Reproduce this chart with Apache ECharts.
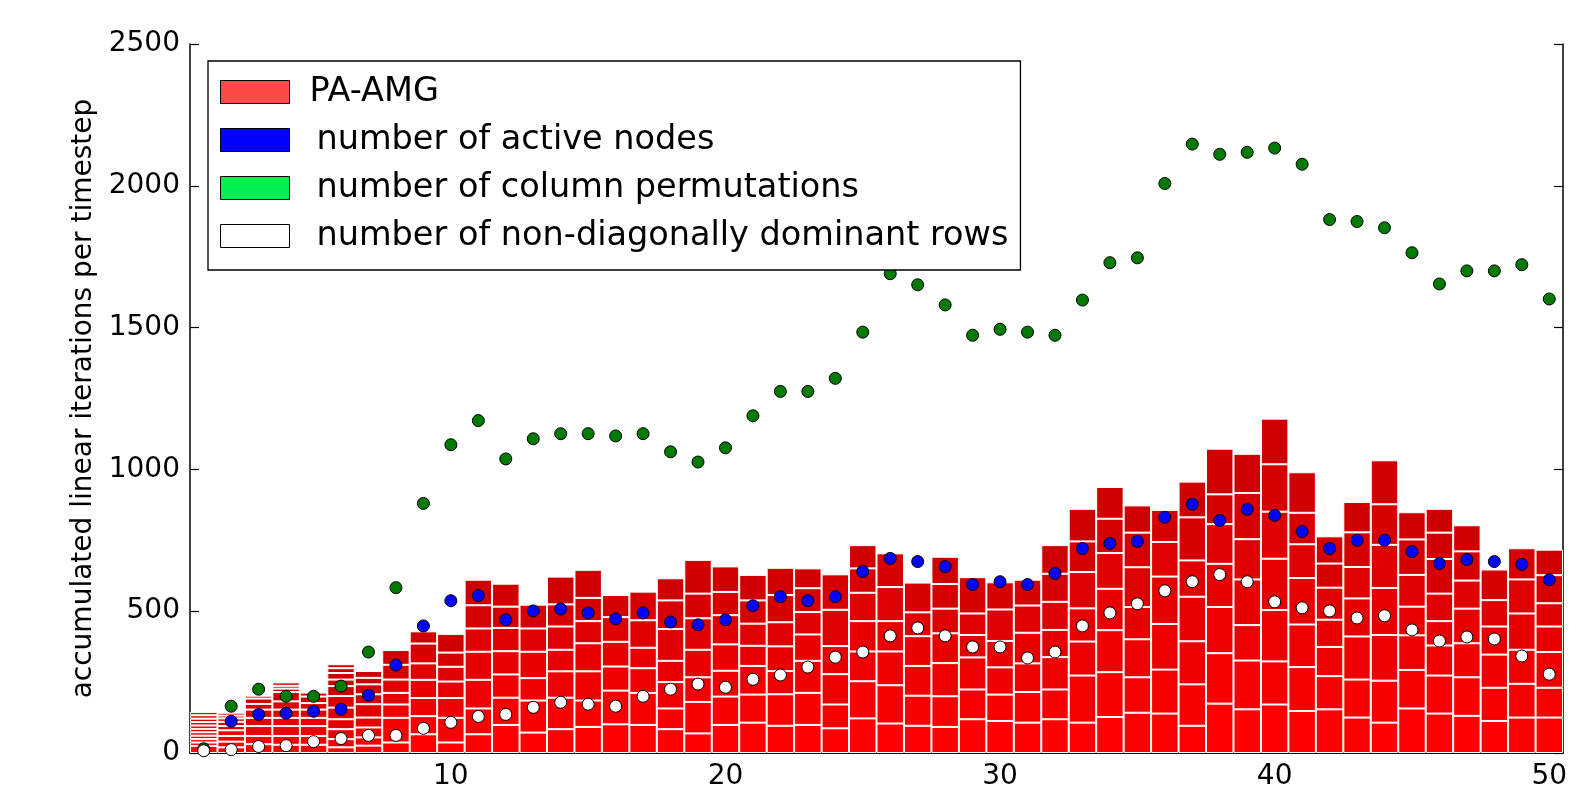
<!DOCTYPE html>
<html>
<head>
<meta charset="utf-8">
<script src="https://cdn.jsdelivr.net/npm/echarts@6/dist/echarts.min.js"></script>
<style>
html,body{margin:0;padding:0;background:#fff;}
#chart{width:1590px;height:791px;}
</style>
</head>
<body>
<div id="chart"></div>
<script>
// ---- data ----
const timesteps = Array.from({length: 50}, (_, i) => String(i + 1));

// linear iterations of each nonlinear (PA-AMG) solve, stacked per timestep (bottom -> top)
const segments = [
  [25,12,12,12,12,12,12,12,12,12,12],
  [20,20,20,20,15,15,12,10,10],
  [31,29,35,29,29,20,19,10],
  [29,31,35,29,29,29,33,12,10,12],
  [29,31,35,29,29,23,23,14],
  [20,29,35,35,41,41,35,23,23,17,14],
  [26,29,35,35,47,35,35,23,24],
  [37,87,47,41,47,52,52],
  [66,64,64,64,58,70,43],
  [37,87,70,58,52,50,66],
  [66,91,101,99,82,82,90],
  [99,96,82,82,82,75,81],
  [72,113,79,93,82,84],
  [84,111,93,76,82,78,98],
  [92,93,103,99,78,82,99],
  [101,119,85,87,87,78],
  [99,113,87,72,97,101],
  [84,73,93,75,112,101,78],
  [69,111,87,97,111,87,119],
  [99,100,91,93,103,82,90],
  [107,99,101,71,78,82,90],
  [96,111,82,87,85,96,96],
  [99,113,113,93,79,84,70],
  [87,84,107,99,128,125],
  [122,131,105,107,100,86,82],
  [104,135,119,107,120,119],
  [96,106,105,105,84,105],
  [92,108,117,105,87,87,96],
  [119,105,113,79,76,128],
  [113,93,96,93,111,96],
  [107,108,101,108,96,91],
  [119,105,114,96,99,99,101],
  [107,166,120,117,128,108,115],
  [127,158,148,146,126,121,112],
  [142,125,134,114,140,122,96],
  [139,155,161,167,122,113],
  [96,146,152,157,128,152,126],
  [174,178,163,152,140,105,161],
  [154,172,125,161,142,163,138],
  [171,152,181,181,166,167,161],
  [148,155,150,164,119,111,143],
  [154,117,103,96,113,85,96],
  [125,134,152,134,111,122,107],
  [107,148,161,166,152,143,155],
  [157,136,122,101,112,125,96],
  [139,134,106,86,97,122,93,84],
  [131,136,120,122,99,103,92],
  [113,117,117,99,93,108],
  [125,119,120,128,120,110],
  [125,105,126,90,82,99,90]
];

const activeNodes = [10,112,136,140,147,154,204,310,448,537,555,470,501,508,494,473,494,462,452,470,
  519,551,537,551,640,686,675,657,594,604,594,633,721,739,746,831,877,820,859,838,
  781,721,750,750,710,668,682,675,665,611];

const columnPermutations = [15,165,225,200,200,236,356,583,880,1087,1172,1037,1108,1126,1126,1118,1126,1062,1026,1076,
  1189,1275,1275,1321,1484,1690,1651,1580,1473,1494,1484,1473,1597,1729,1746,2008,2147,2111,2118,2133,
  2076,1881,1874,1852,1764,1654,1700,1700,1722,1601];

const nonDiagRows = [8,12,23,26,40,51,62,62,87,108,129,136,161,179,172,165,200,225,243,232,
  260,275,303,338,356,413,441,413,374,374,335,356,448,494,526,572,604,629,604,533,
  512,501,476,484,434,395,409,402,342,278];

const legendNames = ['PA-AMG','number of active nodes','number of column permutations','number of non-diagonally dominant rows'];

// ---- chart ----
const FONT = 'DejaVu Sans';
const chart = echarts.init(document.getElementById('chart'), null, {renderer: 'canvas'});

const maxSeg = Math.max(...segments.map(s => s.length));
const series = [];
for (let k = 0; k < maxSeg; k++) {
  const r = Math.max(204, 255 - 8 * k);
  series.push({
    name: legendNames[0],
    type: 'bar',
    stack: 'iters',
    barCategoryGap: '0%',
    data: segments.map(s => (k < s.length ? s[k] : '-')),
    itemStyle: {color: 'rgb(' + r + ',0,0)', borderColor: '#ffffff', borderWidth: 1, opacity: 1},
    emphasis: {disabled: true},
    silent: true
  });
}
const dotStyle = (c) => ({color: c, borderColor: '#000', borderWidth: 1, opacity: 1});
series.push({name: legendNames[1], type: 'scatter', data: activeNodes, symbolSize: 12, itemStyle: dotStyle('#0000ff'), z: 5, silent: true});
series.push({name: legendNames[2], type: 'scatter', data: columnPermutations, symbolSize: 12, itemStyle: dotStyle('#007a00'), z: 5, silent: true});
series.push({name: legendNames[3], type: 'scatter', data: nonDiagRows, symbolSize: 12, itemStyle: dotStyle('#ffffff'), z: 5, silent: true});

const showEvery10 = (idx) => (idx + 1) % 10 === 0;
const legendItem = (c) => ({color: c, borderColor: '#000', borderWidth: 1, opacity: 1});

chart.setOption({
  animation: false,
  backgroundColor: '#ffffff',
  grid: {left: 190, right: 27, top: 44, bottom: 32, containLabel: false},
  legend: {
    orient: 'vertical',
    left: 208, top: 61,
    padding: [14, 12, 17, 12],
    itemGap: 14,
    itemWidth: 69, itemHeight: 23,
    icon: 'rect',
    selectedMode: false,
    borderColor: '#000', borderWidth: 1.3, borderRadius: 0,
    backgroundColor: '#fff',
    itemStyle: {borderColor: '#000', borderWidth: 1, opacity: 1},
    textStyle: {fontSize: 33.5, fontFamily: FONT, color: '#000', lineHeight: 28, padding: [0, 0, 0, 22]},
    data: [
      {name: legendNames[0], itemStyle: legendItem('#ff4848'), textStyle: {padding: [0, 0, 0, 15]}},
      {name: legendNames[1], itemStyle: legendItem('#0000ff')},
      {name: legendNames[2], itemStyle: legendItem('#00ee50')},
      {name: legendNames[3], itemStyle: legendItem('#ffffff')}
    ],
    z: 10
  },
  xAxis: [
    {
      type: 'category', data: timesteps, boundaryGap: true, position: 'bottom',
      axisLine: {lineStyle: {color: '#000', width: 1.5}},
      axisTick: {inside: true, alignWithLabel: true, interval: showEvery10, length: 9, lineStyle: {color: '#000', width: 1.2}},
      axisLabel: {interval: showEvery10, color: '#000', fontSize: 28, fontFamily: FONT, margin: 10},
      splitLine: {show: false}
    },
    {
      type: 'category', data: timesteps, boundaryGap: true, position: 'top',
      axisLine: {lineStyle: {color: '#000', width: 1.5}},
      axisTick: {inside: true, alignWithLabel: true, interval: showEvery10, length: 9, lineStyle: {color: '#000', width: 1.2}},
      axisLabel: {show: false},
      splitLine: {show: false}
    }
  ],
  yAxis: [
    {
      type: 'value', min: 0, max: 2500, interval: 500, position: 'left',
      name: 'accumulated linear iterations per timestep',
      nameLocation: 'middle', nameGap: 80,
      nameTextStyle: {fontSize: 28, fontFamily: FONT, color: '#000'},
      axisLine: {show: true, lineStyle: {color: '#000', width: 1.5}},
      axisTick: {show: true, inside: true, length: 9, lineStyle: {color: '#000', width: 1.2}},
      axisLabel: {color: '#000', fontSize: 28, fontFamily: FONT, margin: 10, formatter: (v) => String(v)},
      splitLine: {show: false}
    },
    {
      type: 'value', min: 0, max: 2500, interval: 500, position: 'right',
      axisLine: {show: true, lineStyle: {color: '#000', width: 1.5}},
      axisTick: {show: true, inside: true, length: 9, lineStyle: {color: '#000', width: 1.2}},
      axisLabel: {show: false},
      splitLine: {show: false}
    }
  ],
  series: series
});
</script>
</body>
</html>
